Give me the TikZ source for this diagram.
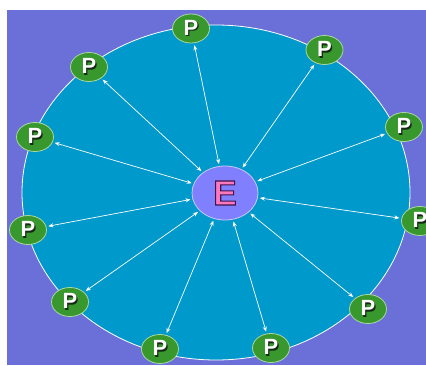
\documentclass[tikz,border=0pt]{standalone}
\usepackage{fontspec}
\setmainfont{Liberation Sans}
\usetikzlibrary{shapes.geometric,arrows.meta}
\definecolor{bgpurple}{RGB}{106,112,216}
\definecolor{seablue}{RGB}{0,153,204}
\definecolor{pgreen}{RGB}{56,152,46}
\definecolor{pborder}{RGB}{170,215,160}
\definecolor{efill}{RGB}{128,128,255}
\definecolor{eborder}{RGB}{200,200,255}
\definecolor{epink}{RGB}{255,120,190}
\definecolor{pshadow}{RGB}{20,40,20}
\newcommand\pletter{\makebox[0pt][l]{\hspace{1.3pt}\raisebox{-1.3pt}{\color{pshadow}P}}\color{white}P}
\newcommand\eletter{{\color{epink}\special{pdf:literal direct 0.24 0.08 0.31 RG 1.1 w 2 Tr}E\special{pdf:literal direct 0 Tr}}}
\tikzset{
  pnode/.style={ellipse, fill=pgreen, draw=pborder, line width=0.8pt,
    minimum width=37pt, minimum height=29pt, inner sep=0pt,
    font=\fontsize{22}{22}\selectfont\bfseries},
  enode/.style={ellipse, fill=efill, draw=eborder, line width=0.8pt,
    minimum width=66pt, minimum height=54pt, inner sep=0pt,
    font=\fontsize{35}{35}\selectfont\bfseries},
  link/.style={white, line width=0.7pt, {Stealth[length=5pt,width=4pt]}-{Stealth[length=5pt,width=4pt]},
    shorten <=2pt, shorten >=2pt}
}
\begin{document}
\begin{tikzpicture}[x=1pt,y=-1pt]
\useasboundingbox (0,0) rectangle (426,365);
\begin{scope}
\clip (7,10) rectangle (426,365);
\fill[bgpurple] (7,10) rectangle (426,365);
\draw[fill=seablue, draw=white, line width=0.8pt] (216,192.5) ellipse [x radius=194, y radius=167.5];
\node[enode] (E) at (225,193) {\eletter};
\node[pnode] (p1) at (191,28.5) {\pletter};
\node[pnode] (p2) at (324.5,50) {\pletter};
\node[pnode] (p3) at (89,67) {\pletter};
\node[pnode] (p4) at (404,127) {\pletter};
\node[pnode] (p5) at (35,137) {\pletter};
\node[pnode] (p6) at (420,221) {\pletter};
\node[pnode] (p7) at (28,230) {\pletter};
\node[pnode] (p8) at (368,309) {\pletter};
\node[pnode] (p9) at (70,302) {\pletter};
\node[pnode] (p10) at (160,349) {\pletter};
\node[pnode] (p11) at (271,348) {\pletter};
\foreach \p in {p1,p2,p3,p4,p5,p6,p7,p8,p9,p10,p11}
  \draw[link] (\p) -- (E);
\end{scope}
\end{tikzpicture}
\end{document}
